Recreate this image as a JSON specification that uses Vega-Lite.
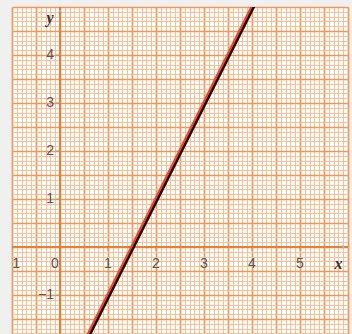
{
  "$schema": "https://vega.github.io/schema/vega-lite/v6.json",
  "width": 336,
  "height": 327,
  "autosize": {"type": "none"},
  "padding": {"left": 12, "top": 7, "right": 4, "bottom": 0},
  "background": "#f0f0f0",
  "config": {"view": {"stroke": null, "fill": "white"}},
  "datasets": {
    "line": [{"x": 0.4, "y": -2.2}, {"x": 4.1, "y": 5.2}],
    "one": [{}],
    "xlabels": [
      {"v": -1, "t": "−1"}, {"v": 1, "t": "1"}, {"v": 2, "t": "2"},
      {"v": 3, "t": "3"}, {"v": 4, "t": "4"}, {"v": 5, "t": "5"}
    ],
    "ylabels": [
      {"v": -1, "t": "−1"}, {"v": 1, "t": "1"}, {"v": 2, "t": "2"},
      {"v": 3, "t": "3"}, {"v": 4, "t": "4"}
    ],
    "xticks": [{"v": -1}, {"v": 1}, {"v": 2}, {"v": 3}, {"v": 4}, {"v": 5}],
    "yticks": [{"v": -1}, {"v": 1}, {"v": 2}, {"v": 3}, {"v": 4}]
  },
  "resolve": {"axis": {"x": "independent", "y": "independent"}},
  "layer": [
    {
      "data": {"name": "line"},
      "mark": {"type": "point", "opacity": 0},
      "encoding": {
        "x": {"field": "x", "type": "quantitative",
          "scale": {"domain": [-1, 6], "nice": false, "zero": false},
          "axis": {"tickCount": 70, "grid": true, "gridColor": "#fbbf96", "gridWidth": 1, "gridOpacity": 1, "labels": false, "ticks": false, "domain": false, "title": null}},
        "y": {"field": "y", "type": "quantitative",
          "scale": {"domain": [-1.8125, 5], "nice": false, "zero": false},
          "axis": {"tickCount": 68, "grid": true, "gridColor": "#fbbf96", "gridWidth": 1, "gridOpacity": 1, "labels": false, "ticks": false, "domain": false, "title": null}}
      }
    },
    {
      "data": {"name": "line"},
      "mark": {"type": "point", "opacity": 0},
      "encoding": {
        "x": {"field": "x", "type": "quantitative",
          "axis": {"tickCount": 14, "grid": true, "gridColor": "#f5954f", "gridWidth": 1.7, "gridOpacity": 1, "labels": false, "ticks": false, "domain": false, "title": null}},
        "y": {"field": "y", "type": "quantitative",
          "axis": {"tickCount": 14, "grid": true, "gridColor": "#f5954f", "gridWidth": 1.7, "gridOpacity": 1, "labels": false, "ticks": false, "domain": false, "title": null}}
      }
    },
    {
      "data": {"name": "one"},
      "mark": {"type": "rule", "color": "#e3803a", "strokeWidth": 2},
      "encoding": {"x": {"datum": 0, "type": "quantitative", "axis": null}}
    },
    {
      "data": {"name": "one"},
      "mark": {"type": "rule", "color": "#e3803a", "strokeWidth": 2},
      "encoding": {"y": {"datum": 0, "type": "quantitative", "axis": null}}
    },
    {
      "data": {"name": "xticks"},
      "mark": {"type": "rule", "color": "#999999", "strokeWidth": 1, "clip": true},
      "encoding": {
        "x": {"field": "v", "type": "quantitative", "axis": null},
        "y": {"datum": 0, "type": "quantitative", "axis": null},
        "y2": {"datum": -0.08}
      }
    },
    {
      "data": {"name": "yticks"},
      "mark": {"type": "rule", "color": "#999999", "strokeWidth": 1, "clip": true},
      "encoding": {
        "y": {"field": "v", "type": "quantitative", "axis": null},
        "x": {"datum": 0, "type": "quantitative", "axis": null},
        "x2": {"datum": -0.08}
      }
    },
    {
      "data": {"name": "line"},
      "mark": {"type": "line", "color": "#111111", "strokeWidth": 3, "clip": true, "xOffset": 1, "yOffset": 1},
      "encoding": {
        "x": {"field": "x", "type": "quantitative", "axis": null},
        "y": {"field": "y", "type": "quantitative", "axis": null}
      }
    },
    {
      "data": {"name": "line"},
      "mark": {"type": "line", "color": "#ee4430", "strokeWidth": 2.2, "clip": true, "xOffset": -0.5, "yOffset": -0.5},
      "encoding": {
        "x": {"field": "x", "type": "quantitative", "axis": null},
        "y": {"field": "y", "type": "quantitative", "axis": null}
      }
    },
    {
      "data": {"name": "xlabels"},
      "mark": {"type": "text", "font": "Liberation Sans", "fontSize": 14, "color": "#555555", "align": "center", "baseline": "middle", "dy": 17, "clip": true},
      "encoding": {
        "x": {"field": "v", "type": "quantitative", "axis": null},
        "y": {"datum": 0, "type": "quantitative", "axis": null},
        "text": {"field": "t"}
      }
    },
    {
      "data": {"name": "ylabels"},
      "mark": {"type": "text", "font": "Liberation Sans", "fontSize": 14, "color": "#555555", "align": "right", "baseline": "middle", "dx": -6, "clip": true},
      "encoding": {
        "y": {"field": "v", "type": "quantitative", "axis": null},
        "x": {"datum": 0, "type": "quantitative", "axis": null},
        "text": {"field": "t"}
      }
    },
    {
      "data": {"name": "one"},
      "mark": {"type": "text", "font": "Liberation Sans", "fontSize": 14, "color": "#555555", "align": "center", "baseline": "middle", "dx": -5, "dy": 17},
      "encoding": {
        "x": {"datum": 0, "type": "quantitative", "axis": null},
        "y": {"datum": 0, "type": "quantitative", "axis": null},
        "text": {"value": "0"}
      }
    },
    {
      "data": {"name": "one"},
      "mark": {"type": "text", "font": "Liberation Serif", "fontSize": 16, "fontStyle": "italic", "fontWeight": "bold", "color": "#333333", "align": "center", "baseline": "middle", "dy": 17},
      "encoding": {
        "x": {"datum": 5.8, "type": "quantitative", "axis": null},
        "y": {"datum": 0, "type": "quantitative", "axis": null},
        "text": {"value": "x"}
      }
    },
    {
      "data": {"name": "one"},
      "mark": {"type": "text", "font": "Liberation Serif", "fontSize": 16, "fontStyle": "italic", "fontWeight": "bold", "color": "#333333", "align": "center", "baseline": "middle", "dx": -10},
      "encoding": {
        "x": {"datum": 0, "type": "quantitative", "axis": null},
        "y": {"datum": 4.77, "type": "quantitative", "axis": null},
        "text": {"value": "y"}
      }
    },
    {
      "data": {"name": "one"},
      "mark": {"type": "point", "shape": "M-1,-0.7L0,0L-1,0.7", "filled": false, "stroke": "#bbbbbb", "strokeWidth": 1, "size": 30, "opacity": 1},
      "encoding": {
        "x": {"datum": 5.92, "type": "quantitative", "axis": null},
        "y": {"datum": 0, "type": "quantitative", "axis": null}
      }
    },
    {
      "data": {"name": "one"},
      "mark": {"type": "point", "shape": "M-0.7,1L0,0L0.7,1", "filled": false, "stroke": "#bbbbbb", "strokeWidth": 1, "size": 30, "opacity": 1},
      "encoding": {
        "x": {"datum": 0, "type": "quantitative", "axis": null},
        "y": {"datum": 4.93, "type": "quantitative", "axis": null}
      }
    }
  ]
}
